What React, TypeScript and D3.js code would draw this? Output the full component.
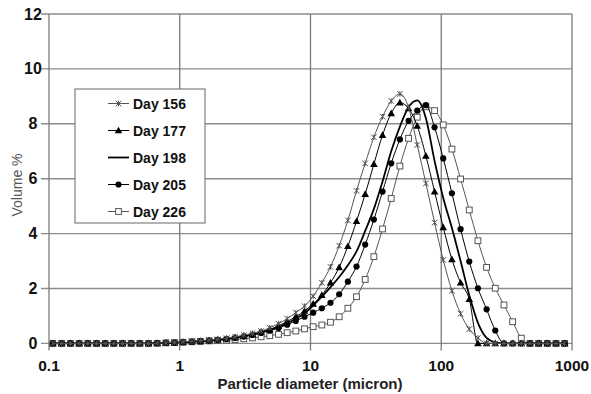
import React from "react";
import * as d3 from "d3";

const sizes = [0.107, 0.125, 0.146, 0.170, 0.198, 0.231, 0.269, 0.313, 0.365, 0.425, 0.495, 0.577, 0.672, 0.783, 0.912, 1.06, 1.24, 1.44, 1.68, 1.95, 2.28, 2.65, 3.09, 3.60, 4.19, 4.88, 5.69, 6.63, 7.72, 9.00, 10.48, 12.21, 14.22, 16.57, 19.31, 22.49, 26.20, 30.53, 35.56, 41.43, 48.27, 56.23, 65.51, 76.32, 88.91, 103.58, 120.67, 140.58, 163.77, 190.80, 222.28, 258.95, 301.68, 351.46, 409.45, 477.01, 555.71, 647.41, 754.23, 878.67];

const day156 = [0, 0, 0, 0, 0, 0, 0, 0, 0, 0, 0, 0, 0.01, 0.02, 0.04, 0.06, 0.08, 0.10, 0.12, 0.15, 0.19, 0.24, 0.30, 0.37, 0.45, 0.57, 0.72, 0.90, 1.12, 1.36, 1.72, 2.21, 2.79, 3.56, 4.48, 5.56, 6.56, 7.51, 8.26, 8.83, 9.09, 8.60, 7.23, 5.83, 4.40, 3.04, 1.92, 1.08, 0.52, 0.20, 0, 0, 0, 0, 0, 0, 0, 0, 0, 0];
const day177 = [0, 0, 0, 0, 0, 0, 0, 0, 0, 0, 0, 0, 0.01, 0.02, 0.03, 0.05, 0.07, 0.09, 0.11, 0.14, 0.17, 0.22, 0.27, 0.33, 0.41, 0.51, 0.64, 0.80, 0.97, 1.18, 1.44, 1.76, 2.21, 2.77, 3.54, 4.45, 5.44, 6.53, 7.59, 8.38, 8.77, 8.56, 7.92, 6.83, 5.53, 4.23, 3.06, 2.21, 1.61, 0, 0, 0, 0, 0, 0, 0, 0, 0, 0, 0];
const day198 = [0, 0, 0, 0, 0, 0, 0, 0, 0, 0, 0, 0, 0.01, 0.02, 0.03, 0.05, 0.06, 0.08, 0.10, 0.13, 0.17, 0.21, 0.26, 0.32, 0.40, 0.49, 0.60, 0.74, 0.90, 1.10, 1.38, 1.70, 2.05, 2.42, 2.85, 3.35, 4.10, 4.90, 5.90, 7.00, 7.90, 8.60, 8.85, 8.20, 6.65, 5.30, 4.20, 3.00, 1.75, 0.75, 0.20, 0.04, 0, 0, 0, 0, 0, 0, 0, 0];
const day205 = [0, 0, 0, 0, 0, 0, 0, 0, 0, 0, 0, 0, 0.01, 0.02, 0.03, 0.05, 0.06, 0.08, 0.10, 0.13, 0.16, 0.20, 0.25, 0.31, 0.38, 0.46, 0.56, 0.68, 0.82, 0.97, 1.12, 1.28, 1.48, 1.79, 2.25, 2.80, 3.60, 4.51, 5.53, 6.56, 7.43, 8.11, 8.48, 8.68, 7.87, 6.74, 5.47, 4.16, 2.98, 2.01, 1.24, 0.47, 0, 0, 0, 0, 0, 0, 0, 0];
const day226 = [0, 0, 0, 0, 0, 0, 0, 0, 0, 0, 0, 0, 0, 0.02, 0.03, 0.04, 0.06, 0.07, 0.09, 0.10, 0.12, 0.14, 0.17, 0.20, 0.24, 0.28, 0.33, 0.39, 0.45, 0.53, 0.61, 0.67, 0.77, 0.97, 1.28, 1.70, 2.33, 3.16, 4.17, 5.28, 6.46, 7.47, 8.24, 8.62, 8.48, 7.96, 7.08, 5.99, 4.86, 3.74, 2.77, 2.01, 1.40, 0.79, 0.19, 0, 0, 0, 0, 0];

const seriesNames = ["Day 156", "Day 177", "Day 198", "Day 205", "Day 226"];
const xTicks = [0.1, 1, 10, 100, 1000];
const xTickLabels = ["0.1", "1", "10", "100", "1000"];
const yTicks = [0, 2, 4, 6, 8, 10, 12];

type Kind = "star" | "tri" | "none" | "dot" | "sq";
const styles: { kind: Kind; color: string; width: number }[] = [
  { kind: "star", color: "#555", width: 1 },
  { kind: "tri", color: "#000", width: 1 },
  { kind: "none", color: "#000", width: 1.8 },
  { kind: "dot", color: "#000", width: 1 },
  { kind: "sq", color: "#555", width: 1 },
];

const FONT = "'Liberation Sans', Arial, sans-serif";

function Marker({ kind, x, y, color }: { kind: Kind; x: number; y: number; color: string }) {
  if (kind === "star") {
    const r = 2.8;
    return (
      <g stroke={color} strokeWidth={1}>
        <line x1={x - r} y1={y - r} x2={x + r} y2={y + r} />
        <line x1={x - r} y1={y + r} x2={x + r} y2={y - r} />
        <line x1={x} y1={y - r} x2={x} y2={y + r} />
      </g>
    );
  }
  if (kind === "tri") {
    const s = 3.8;
    return <path d={`M${x},${y - s}L${x + s},${y + s * 0.75}L${x - s},${y + s * 0.75}Z`} fill={color} />;
  }
  if (kind === "dot") {
    return <circle cx={x} cy={y} r={3.1} fill={color} />;
  }
  if (kind === "sq") {
    return <rect x={x - 2.9} y={y - 2.9} width={5.8} height={5.8} fill="#fff" stroke={color} strokeWidth={1} />;
  }
  return null;
}

export default function App() {
  const W = 591, H = 394;
  const x = d3.scaleLog().domain([0.1, 1000]).range([49, 572]);
  const y = d3.scaleLinear().domain([0, 12]).range([343.4, 14]);
  const all = [day156, day177, day198, day205, day226];
  const line = d3
    .line<[number, number]>()
    .x((d) => x(d[0]))
    .y((d) => y(d[1]))
    .curve(d3.curveMonotoneX);

  const order = [4, 3, 2, 1, 0];
  const legX = 75, legY = 89, legW = 130, legH = 134;

  return (
    <svg width={W} height={H} style={{ position: "absolute", left: 0, top: 0, background: "#fff" }} fontFamily={FONT}>
      <rect x={0} y={0} width={W} height={H} fill="#fff" />
      {yTicks.map((t) => (
        <line key={"h" + t} x1={41} x2={572} y1={y(t)} y2={y(t)} stroke="#8c8c8c" strokeWidth={1.4} />
      ))}
      {xTicks.map((t) => (
        <line key={"v" + t} x1={x(t)} x2={x(t)} y1={y(12)} y2={y(0) + 7} stroke="#7a7a7a" strokeWidth={1.3} />
      ))}
      {yTicks.map((t) => (
        <text key={"yl" + t} x={33} y={y(t)} textAnchor="middle" dominantBaseline="central" fontSize={16} fontWeight="bold" fill="#111">
          {t}
        </text>
      ))}
      {xTicks.map((t, i) => (
        <text key={"xl" + t} x={x(t)} y={371} textAnchor="middle" fontSize={15.5} fontWeight="bold" fill="#111">
          {xTickLabels[i]}
        </text>
      ))}
      <text x={310} y={389} textAnchor="middle" fontSize={15} fontWeight="bold" fill="#222">
        Particle diameter (micron)
      </text>
      <text transform="translate(22,185) rotate(-90)" textAnchor="middle" fontSize={14} fill="#555">
        Volume %
      </text>
      {order.map((si) => {
        const st = styles[si];
        const pts: [number, number][] = sizes.map((s, i) => [s, all[si][i]]);
        return (
          <g key={"s" + si}>
            <path d={line(pts) || ""} fill="none" stroke={st.color} strokeWidth={st.width} />
            {pts.map((p, i) => (
              <Marker key={i} kind={st.kind} x={x(p[0])} y={y(p[1])} color={st.color} />
            ))}
          </g>
        );
      })}
      <rect x={legX} y={legY} width={legW} height={legH} fill="#fff" stroke="#666" strokeWidth={1} />
      {seriesNames.map((n, i) => {
        const ly = 103.5 + i * 27;
        const st = styles[i];
        return (
          <g key={"lg" + i}>
            <line x1={108} x2={129} y1={ly} y2={ly} stroke={st.color} strokeWidth={st.width} />
            <Marker kind={st.kind} x={118.5} y={ly} color={st.color} />
            <text x={133} y={ly} dominantBaseline="central" fontSize={14} fontWeight="bold" fill="#111">
              {n}
            </text>
          </g>
        );
      })}
    </svg>
  );
}
